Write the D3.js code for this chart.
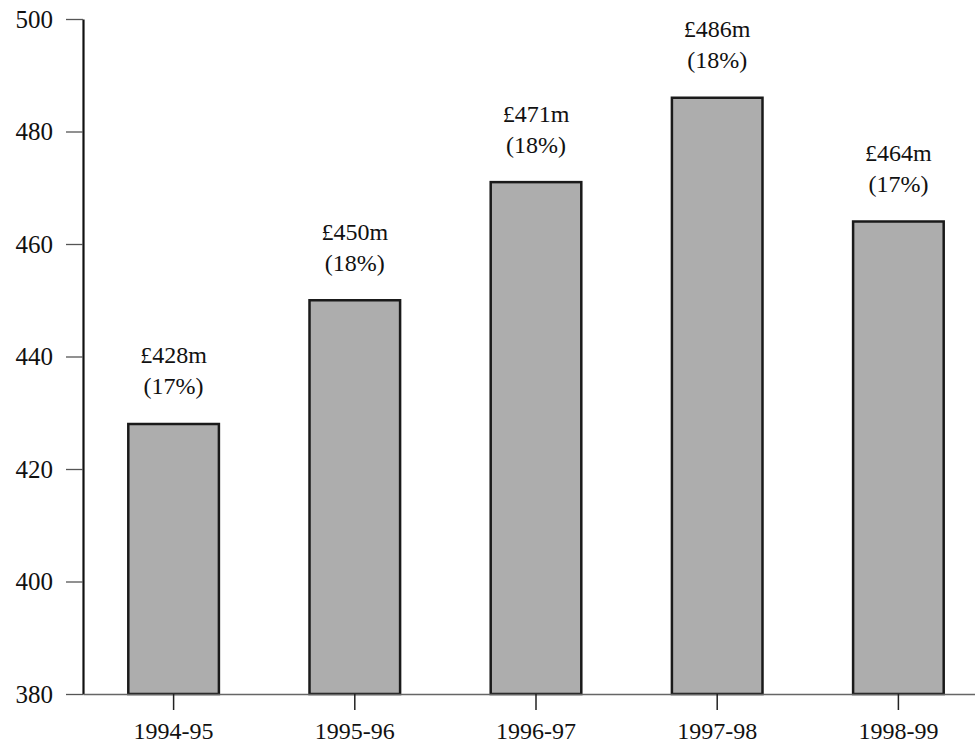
<!DOCTYPE html>
<html>
<head>
<meta charset="utf-8">
<script src="https://cdn.jsdelivr.net/npm/d3@7"></script>
<style>
  html, body { margin: 0; padding: 0; background: #fff; }
  svg { display: block; }
  text { font-family: "Liberation Serif", "Times New Roman", serif; fill: #111; }
</style>
</head>
<body>
<svg id="chart" width="975" height="746"></svg>
<script>
// Spending by year (£m) and its share of the total
const years = ["1994-95", "1995-96", "1996-97", "1997-98", "1998-99"];
const spending = [428, 450, 471, 486, 464];
const shares = [17, 18, 18, 18, 17];
const yTicks = [380, 400, 420, 440, 460, 480, 500];

(function drawChart() {
  const svg = d3.select("#chart");
  const plotLeft = 83, plotRight = 989, plotBottom = 694, plotTop = 19;

  const x = d3.scaleBand().domain(years).range([plotLeft, plotRight])
    .paddingInner(0.5).paddingOuter(0.25);
  const y = d3.scaleLinear().domain([380, 500]).range([plotBottom, plotTop]);

  // Bars
  svg.append("g").selectAll("rect")
    .data(years)
    .join("rect")
    .attr("x", d => x(d))
    .attr("y", (d, i) => y(spending[i]))
    .attr("width", x.bandwidth())
    .attr("height", (d, i) => plotBottom - y(spending[i]))
    .attr("fill", "#adadad")
    .attr("stroke", "#1a1a1a")
    .attr("stroke-width", 2.5);

  // Value labels above bars
  const labels = svg.append("g").attr("text-anchor", "middle").style("font-size", "24px");
  labels.selectAll("text.val")
    .data(years)
    .join("text")
    .attr("class", "val")
    .attr("x", d => x(d) + x.bandwidth() / 2)
    .attr("y", (d, i) => y(spending[i]) - 69)
    .attr("dy", "0.35em")
    .text((d, i) => `£${spending[i]}m`);
  labels.selectAll("text.pct")
    .data(years)
    .join("text")
    .attr("class", "pct")
    .attr("x", d => x(d) + x.bandwidth() / 2)
    .attr("y", (d, i) => y(spending[i]) - 38)
    .attr("dy", "0.35em")
    .text((d, i) => `(${shares[i]}%)`);

  // Y axis
  const yAxis = svg.append("g")
    .attr("transform", `translate(${plotLeft},0)`)
    .call(d3.axisLeft(y).tickValues(yTicks).tickSize(17).tickPadding(13).tickSizeOuter(0));
  yAxis.select(".domain").attr("stroke", "#111").attr("stroke-width", 2.2);
  yAxis.selectAll(".tick line").attr("stroke", "#555").attr("stroke-width", 1.3);
  yAxis.selectAll(".tick text")
    .style("font-family", "'Liberation Serif', serif")
    .style("font-size", "25px")
    .attr("fill", "#111");

  // X axis
  const xAxis = svg.append("g")
    .attr("transform", `translate(0,${plotBottom})`)
    .call(d3.axisBottom(x).tickSize(16).tickPadding(12).tickSizeOuter(0));
  xAxis.select(".domain").attr("stroke", "#666").attr("stroke-width", 1.5);
  xAxis.selectAll(".tick line").attr("stroke", "#222").attr("stroke-width", 1.5);
  xAxis.selectAll(".tick text")
    .style("font-family", "'Liberation Serif', serif")
    .style("font-size", "24px")
    .attr("fill", "#111");
})();
</script>
</body>
</html>
